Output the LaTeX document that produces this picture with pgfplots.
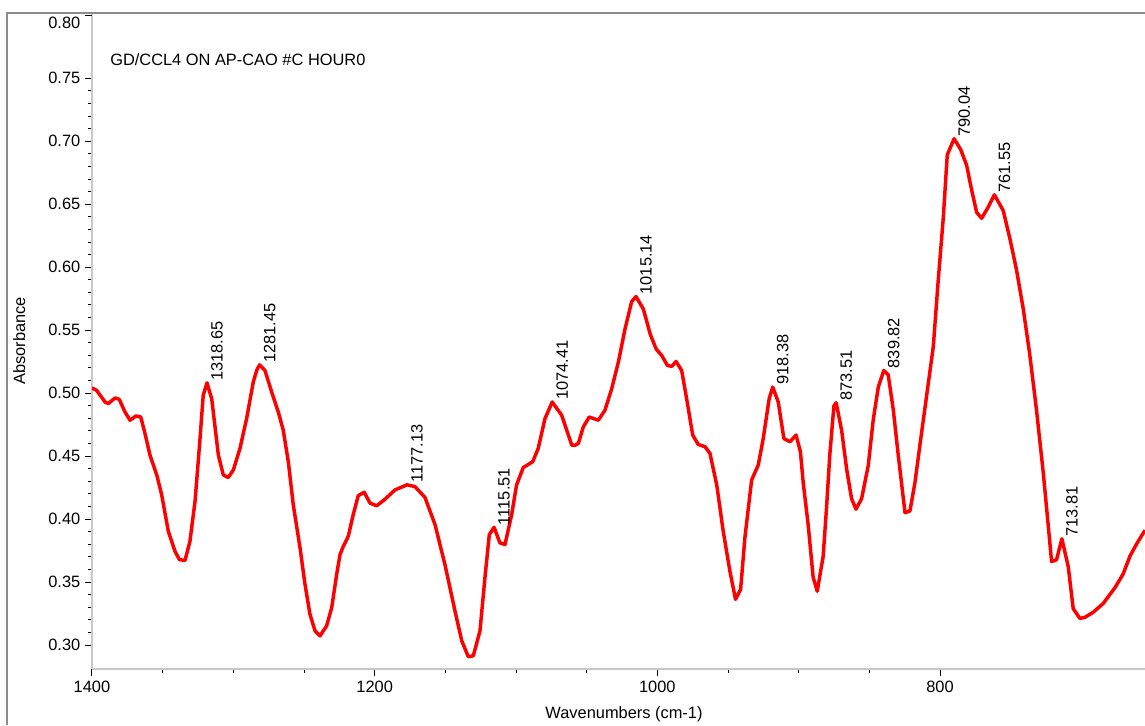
\documentclass[border=0pt]{standalone}
\usepackage{fontspec}
\setmainfont{Liberation Sans}
\usepackage{pgfplots}
\pgfplotsset{compat=1.18}
\definecolor{framegray}{RGB}{140,140,140}
\definecolor{axisgray}{RGB}{200,200,200}
\def\px{0.75pt}
\newcommand\lbl{\fontsize{12.3}{14}\selectfont}

\begin{document}
\begin{tikzpicture}
\path[use as bounding box] (0,0) rectangle (1145*\px,-725*\px);
\draw[framegray, line width=2*\px] (7*\px,-725*\px) -- (7*\px,-13*\px) -- (1145*\px,-13*\px);

\begin{axis}[
  at={(69pt,-501.75pt)}, anchor=south west,
  scale only axis, width=789.75pt, height=491.25pt,
  x dir=reverse, xmin=655, xmax=1400, ymin=0.281, ymax=0.801,
  axis x line*=bottom, axis y line*=left,
  axis line style={-, draw=axisgray, line width=1.9pt},
  xtick={800,1000,1200,1400}, minor x tick num=3,
  ytick={0.30,0.35,0.40,0.45,0.50,0.55,0.60,0.65,0.70,0.75},
  minor y tick num=4,
  extra y ticks={0.80}, extra y tick labels={0.80},
  extra y tick style={yticklabel style={yshift=-6pt}},
  tick align=outside,
  major tick length=5.25pt, minor tick length=3pt,
  tick style={black, line width=0.75pt},
  tick label style={font=\lbl},
  scaled x ticks=false, scaled y ticks=false,
  /pgf/number format/assume math mode=true,
  yticklabel style={/pgf/number format/fixed, /pgf/number format/fixed zerofill, /pgf/number format/precision=2},
  xticklabel style={/pgf/number format/set thousands separator={}},
]
\addplot[red, line width=2.6pt, line join=round] coordinates {
(1400,0.5041) (1396.7,0.5022) (1390.8,0.4930) (1388.5,0.4917) (1383.7,0.4962)
(1380.7,0.4951) (1376.7,0.4851) (1373.1,0.4785) (1368.9,0.4819) (1365.5,0.4811)
(1362.5,0.4680) (1359.0,0.4509) (1354.2,0.4351) (1350.7,0.4193) (1346.0,0.3903)
(1341.3,0.3745) (1338.2,0.3679) (1334.2,0.3672) (1330.7,0.3824) (1327.1,0.4140)
(1324.1,0.4561) (1321.3,0.4983) (1318.65,0.5082) (1315.3,0.4956) (1310.6,0.4509)
(1307.1,0.4351) (1303.6,0.4330) (1300.0,0.4390) (1295.3,0.4561) (1290.6,0.4798)
(1285.9,0.5088) (1283.5,0.5180) (1281.45,0.5225) (1277.6,0.5180) (1272.9,0.5009)
(1268.2,0.4851) (1264.7,0.4706) (1261.1,0.4456) (1257.6,0.4114) (1252.8,0.3771)
(1249.3,0.3482) (1245.8,0.3245) (1242.2,0.3113) (1238.7,0.3073) (1234.0,0.3152)
(1230.4,0.3297) (1226.9,0.3561) (1224.5,0.3719) (1222.2,0.3784) (1218.7,0.3863)
(1215.2,0.4035) (1211.6,0.4187) (1207.4,0.4213) (1203.3,0.4127) (1198.6,0.4106)
(1192.7,0.4158) (1185.6,0.4232) (1177.13,0.4272) (1171.5,0.4258) (1164.4,0.4172)
(1157.3,0.3956) (1150.3,0.3640) (1143.2,0.3271) (1138.4,0.3034) (1133.8,0.2908)
(1130.2,0.2915) (1125.5,0.3113) (1122.0,0.3534) (1118.9,0.3877) (1115.51,0.3935)
(1111.4,0.3811) (1107.8,0.3798) (1103.1,0.4035) (1099.6,0.4272) (1094.9,0.4409)
(1088.2,0.4456) (1084.3,0.4561) (1079.5,0.4798) (1074.41,0.4930) (1067.7,0.4825)
(1060.6,0.4588) (1058.3,0.4586) (1055.9,0.4601) (1052.4,0.4732) (1048.2,0.4811)
(1041.8,0.4785) (1037.1,0.4864) (1032.3,0.5035) (1027.6,0.5246) (1022.9,0.5509)
(1018.2,0.5726) (1015.14,0.5767) (1009.9,0.5667) (1005.1,0.5470) (1000.9,0.5351)
(996.9,0.5299) (992.9,0.5220) (989.9,0.5212) (986.8,0.5252) (982.8,0.5180)
(979.3,0.4956) (975.0,0.4667) (971.1,0.4593) (966.3,0.4575) (962.8,0.4522)
(958.0,0.4272) (953.4,0.3903) (948.7,0.3587) (944.7,0.3363) (941.1,0.3442)
(938.1,0.3850) (933.3,0.4311) (928.6,0.4430) (925.1,0.4640) (920.9,0.4956)
(918.38,0.5048) (914.5,0.4930) (910.5,0.4640) (906.2,0.4614) (901.9,0.4667)
(898.8,0.4535) (896.8,0.4287) (893.3,0.3954) (889.8,0.3540) (886.9,0.3427)
(882.7,0.3705) (880.3,0.4093) (878.0,0.4511) (875.1,0.4898) (873.51,0.4924)
(869.6,0.4702) (866.1,0.4398) (862.6,0.4162) (859.5,0.4079) (855.5,0.4162)
(850.8,0.4425) (847.3,0.4786) (843.7,0.5048) (839.82,0.5180) (836.7,0.5146)
(833.1,0.4869) (829.6,0.4509) (824.8,0.4051) (821.3,0.4065) (817.8,0.4287)
(814.2,0.4592) (809.5,0.4980) (804.8,0.5368) (801.3,0.5895) (797.7,0.6394)
(794.9,0.6892) (790.04,0.7020) (785.4,0.6934) (781.2,0.6809) (777.7,0.6615)
(774.1,0.6435) (770.6,0.6388) (765.9,0.6477) (761.55,0.6575) (755.3,0.6449)
(750.6,0.6227) (745.9,0.5978) (741.2,0.5673) (736.6,0.5312) (731.8,0.4869)
(727.0,0.4370) (723.5,0.3954) (721.1,0.3663) (717.6,0.3677) (713.81,0.3844)
(709.3,0.3622) (705.8,0.3289) (701.1,0.3212) (697.6,0.3220) (691.6,0.3261)
(684.6,0.3330) (676.3,0.3455) (670.4,0.3566) (665.7,0.3705) (661.0,0.3802)
(655.0,0.3912)
};
\begin{scope}[every node/.style={font=\lbl, inner sep=0pt, anchor=north west}]
\node[xshift=3pt, yshift=1.5pt, rotate=90] at (axis cs:1318.65,0.5082) {1318.65};
\node[xshift=3pt, yshift=1.5pt, rotate=90] at (axis cs:1281.45,0.5225) {1281.45};
\node[xshift=3pt, yshift=1.5pt, rotate=90] at (axis cs:1177.13,0.4272) {1177.13};
\node[xshift=3pt, yshift=1.5pt, rotate=90] at (axis cs:1115.51,0.3935) {1115.51};
\node[xshift=3pt, yshift=1.5pt, rotate=90] at (axis cs:1074.41,0.4930) {1074.41};
\node[xshift=3pt, yshift=1.5pt, rotate=90] at (axis cs:1015.14,0.5767) {1015.14};
\node[xshift=3pt, yshift=1.5pt, rotate=90] at (axis cs:918.38,0.5048) {918.38};
\node[xshift=3pt, yshift=1.5pt, rotate=90] at (axis cs:873.51,0.4924) {873.51};
\node[xshift=3pt, yshift=1.5pt, rotate=90] at (axis cs:839.82,0.5180) {839.82};
\node[xshift=3pt, yshift=1.5pt, rotate=90] at (axis cs:790.04,0.7020) {790.04};
\node[xshift=3pt, yshift=1.5pt, rotate=90] at (axis cs:761.55,0.6575) {761.55};
\node[xshift=3pt, yshift=1.5pt, rotate=90] at (axis cs:713.81,0.3844) {713.81};
\end{scope}
\end{axis}

\node[font=\lbl, anchor=base west, inner sep=0pt] at (110*\px,-65*\px) {GD/CCL4 ON AP-CAO \#C HOUR0};
\node[font=\lbl, anchor=base, inner sep=0pt] at (624*\px,-718*\px) {Wavenumbers (cm-1)};
\node[font=\lbl, anchor=base, inner sep=0pt, rotate=90] at (25*\px,-341*\px) {Absorbance};
\end{tikzpicture}
\end{document}
